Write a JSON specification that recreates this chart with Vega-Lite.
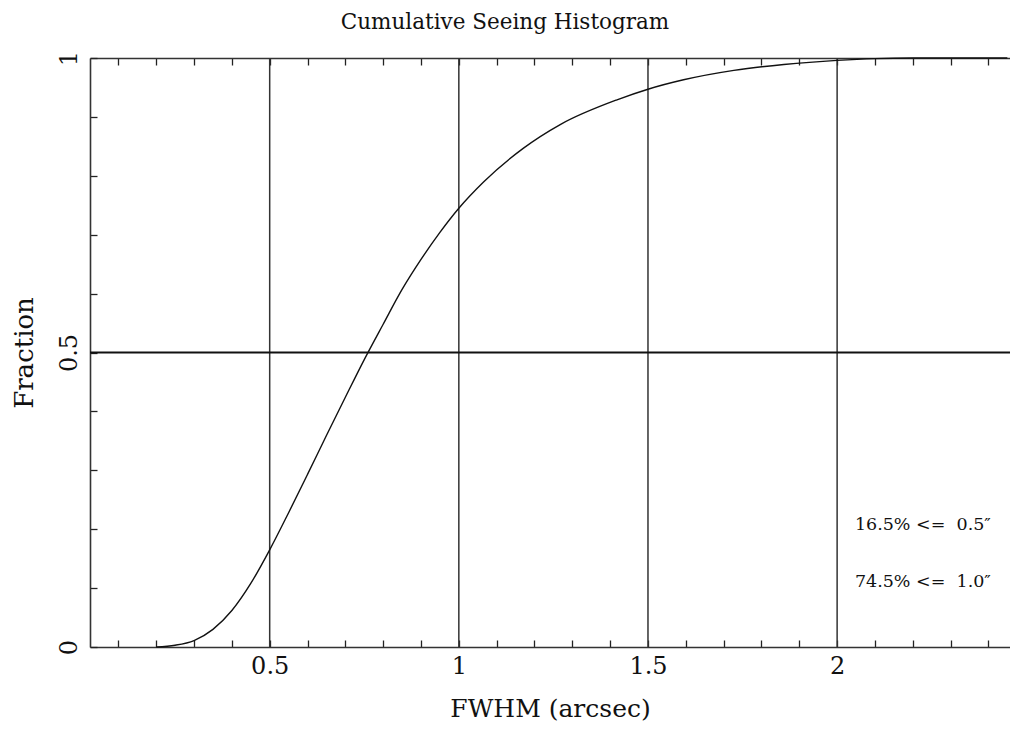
{
  "$schema": "https://vega.github.io/schema/vega-lite/v6.json",
  "autosize": "none",
  "width": 920,
  "height": 589,
  "padding": {"left": 90, "top": 58, "right": 0, "bottom": 87},
  "background": "white",
  "view": {"stroke": null},
  "config": {
    "font": "DejaVu Serif",
    "axis": {"labelFont": "DejaVu Serif", "titleFont": "DejaVu Serif", "labelColor": "#111", "titleColor": "#111", "titleFontWeight": "normal", "domainColor": "#333", "domainWidth": 1.6, "tickColor": "#222", "tickWidth": 1.3, "grid": false}
  },
  "title": {"text": "Cumulative Seeing Histogram", "font": "DejaVu Serif", "fontSize": 21.5, "fontWeight": "normal", "color": "#111", "anchor": "middle", "dx": -45, "offset": 17},
  "layer": [
    {
      "data": {"values": [{"g": 0.5}, {"g": 1.0}, {"g": 1.5}, {"g": 2.0}]},
      "mark": {"type": "rule", "color": "#333", "strokeWidth": 1.5},
      "encoding": {
        "x": {"field": "g", "type": "quantitative", "scale": {"domain": [0.025, 2.457], "nice": false, "zero": false},
          "axis": {"orient": "top", "title": null, "labels": false, "values": [0.1,0.2,0.3,0.4,0.5,0.6,0.7,0.8,0.9,1.0,1.1,1.2,1.3,1.4,1.5,1.6,1.7,1.8,1.9,2.0,2.1,2.2,2.3,2.4], "tickSize": -7}}
      }
    },
    {
      "data": {"values": [{"h": 0.5}]},
      "mark": {"type": "rule", "color": "#111", "strokeWidth": 2.2},
      "encoding": {
        "y": {"field": "h", "type": "quantitative", "scale": {"domain": [0, 1], "nice": false}, "axis": null}
      }
    },
    {
      "data": {"values": [
        {"fwhm": 0.2, "frac": 0.0},
        {"fwhm": 0.25, "frac": 0.003},
        {"fwhm": 0.3, "frac": 0.011},
        {"fwhm": 0.35, "frac": 0.03},
        {"fwhm": 0.4, "frac": 0.062},
        {"fwhm": 0.45, "frac": 0.108},
        {"fwhm": 0.5, "frac": 0.165},
        {"fwhm": 0.55, "frac": 0.228},
        {"fwhm": 0.6, "frac": 0.293},
        {"fwhm": 0.65, "frac": 0.359},
        {"fwhm": 0.7, "frac": 0.424},
        {"fwhm": 0.75, "frac": 0.488},
        {"fwhm": 0.8, "frac": 0.548},
        {"fwhm": 0.85, "frac": 0.607},
        {"fwhm": 0.9, "frac": 0.658},
        {"fwhm": 0.95, "frac": 0.704},
        {"fwhm": 1.0, "frac": 0.745},
        {"fwhm": 1.066, "frac": 0.79},
        {"fwhm": 1.171, "frac": 0.847},
        {"fwhm": 1.268, "frac": 0.887},
        {"fwhm": 1.418, "frac": 0.929},
        {"fwhm": 1.5, "frac": 0.947},
        {"fwhm": 1.594, "frac": 0.963},
        {"fwhm": 1.727, "frac": 0.979},
        {"fwhm": 1.859, "frac": 0.989},
        {"fwhm": 2.0, "frac": 0.996},
        {"fwhm": 2.1, "frac": 0.999},
        {"fwhm": 2.2, "frac": 1.0},
        {"fwhm": 2.45, "frac": 1.0}
      ]},
      "mark": {"type": "line", "color": "#111", "strokeWidth": 1.4, "interpolate": "monotone"},
      "encoding": {
        "x": {"field": "fwhm", "type": "quantitative", "scale": {"domain": [0.025, 2.457], "nice": false, "zero": false},
          "axis": {"orient": "bottom", "title": "FWHM (arcsec)", "titleFontSize": 25, "titlePadding": 18, "labelFontSize": 24, "labelPadding": 14, "format": ".1~f",
            "values": [0.1,0.2,0.3,0.4,0.5,0.6,0.7,0.8,0.9,1.0,1.1,1.2,1.3,1.4,1.5,1.6,1.7,1.8,1.9,2.0,2.1,2.2,2.3,2.4],
            "labelExpr": "abs(datum.value*2 - round(datum.value*2)) < 0.001 ? datum.label : ''", "tickSize": -7}},
        "y": {"field": "frac", "type": "quantitative", "scale": {"domain": [0, 1], "nice": false},
          "axis": {"orient": "left", "title": "Fraction", "titleFontSize": 26, "titlePadding": 20, "labelFontSize": 24, "labelAngle": -90, "labelAlign": "center", "labelBaseline": "bottom", "labelPadding": 16, "format": ".1~f",
            "values": [0, 0.1, 0.2, 0.3, 0.4, 0.5, 0.6, 0.7, 0.8, 0.9, 1.0],
            "labelExpr": "abs(datum.value*2 - round(datum.value*2)) < 0.001 ? datum.label : ''", "tickSize": -7}}
      }
    },
    {
      "data": {"values": [{"note": "16.5% <=\u00a0\u00a00.5″"}]},
      "mark": {"type": "text", "align": "left", "baseline": "middle", "fontSize": 17.5, "font": "DejaVu Serif", "color": "#111"},
      "encoding": {
        "x": {"datum": 2.047, "type": "quantitative", "axis": null},
        "y": {"datum": 0.207, "type": "quantitative", "axis": null},
        "text": {"field": "note"}
      }
    },
    {
      "data": {"values": [{"note": "74.5% <=\u00a0\u00a01.0″"}]},
      "mark": {"type": "text", "align": "left", "baseline": "middle", "fontSize": 17.5, "font": "DejaVu Serif", "color": "#111"},
      "encoding": {
        "x": {"datum": 2.047, "type": "quantitative", "axis": null},
        "y": {"datum": 0.11, "type": "quantitative", "axis": null},
        "text": {"field": "note"}
      }
    }
  ],
  "resolve": {"axis": {"x": "independent", "y": "independent"}}
}
